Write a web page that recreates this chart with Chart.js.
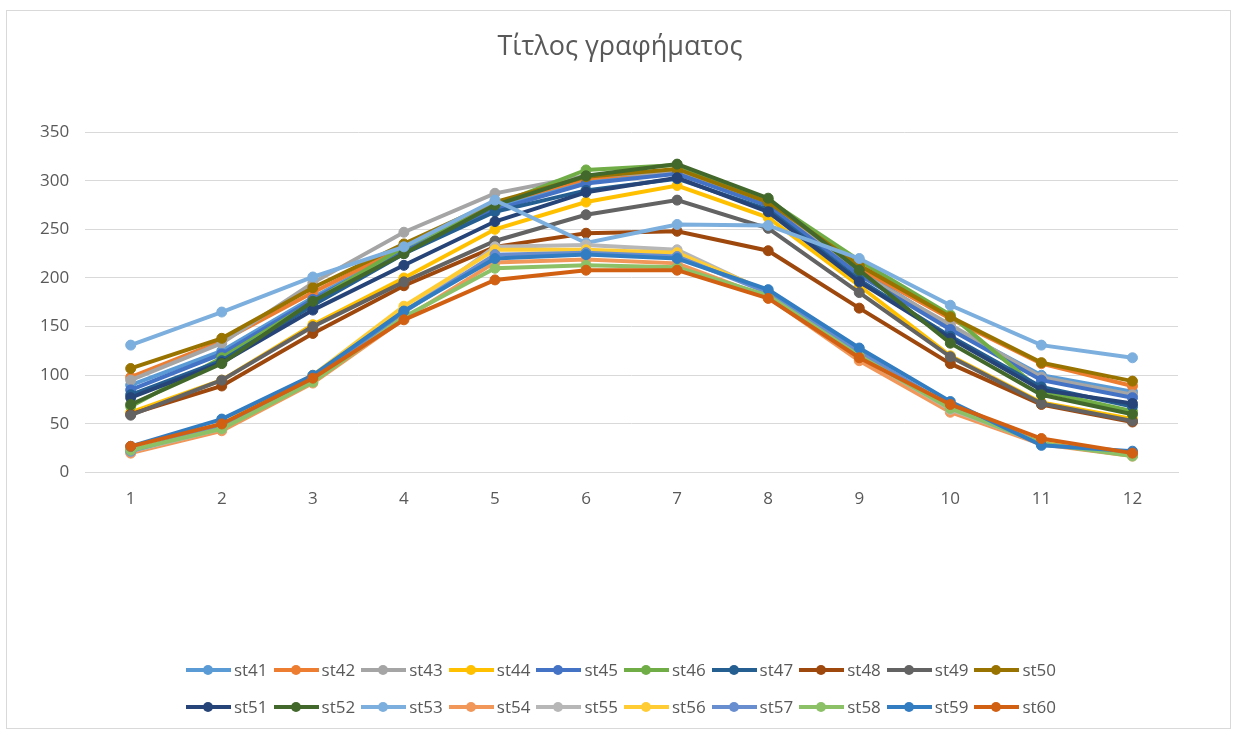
<!DOCTYPE html>
<html>
<head>
<meta charset="utf-8">
<script src="https://cdn.jsdelivr.net/npm/chart.js@4.4.1/dist/chart.umd.min.js"></script>
<style>
  html, body { margin: 0; padding: 0; background: #fff; }
  body { width: 1248px; height: 735px; position: relative; overflow: hidden; font-family: "Open Sans", sans-serif; }
  #frame { position: absolute; left: 6px; top: 10px; width: 1223px; height: 717px; border: 1px solid #d9d9d9; }
  #chart { position: absolute; left: 0; top: 0; }
  #title { position: absolute; left: 0; width: 1240px; top: 26px; text-align: center; font-size: 27px; line-height: 38px; color: #595959; }
  #legend { position: absolute; left: 0; width: 1248px; top: 651px; }
  .row { display: flex; justify-content: center; height: 37px; align-items: center; }
  .item { display: flex; align-items: center; margin-right: 6px; font-size: 17px; color: #595959; }
  .sw { position: relative; width: 45px; height: 4px; background: currentColor; margin-right: 3px; }
  .sw::after { content: ""; position: absolute; left: 17px; top: -3px; width: 10px; height: 10px; border-radius: 50%; background: currentColor; }
  .item span.t { color: #595959; }
</style>
</head>
<body>
<div id="frame"></div>
<canvas id="chart" width="1248" height="735"></canvas>
<div id="title">Τίτλος γραφήματος</div>
<div id="legend"></div>
<script>
const months = ["1", "2", "3", "4", "5", "6", "7", "8", "9", "10", "11", "12"];

const st41 = [90, 125, 180, 230, 272, 300, 310, 276, 208, 150, 100, 83];
const st42 = [98, 135, 185, 232, 276, 302, 311, 278, 210, 158, 112, 89];
const st43 = [95, 133, 195, 247, 287, 305, 309, 275, 205, 152, 98, 80];
const st44 = [62, 95, 152, 200, 250, 278, 295, 262, 192, 120, 72, 55];
const st45 = [85, 122, 178, 228, 270, 297, 307, 274, 203, 147, 95, 77];
const st46 = [68, 118, 175, 232, 275, 311, 316, 280, 218, 162, 84, 63];
const st47 = [80, 115, 172, 225, 268, 290, 302, 270, 198, 140, 88, 68];
const st48 = [60, 89, 143, 192, 232, 246, 248, 228, 169, 112, 70, 52];
const st49 = [59, 95, 150, 196, 238, 265, 280, 251, 185, 119, 71, 53];
const st50 = [107, 138, 190, 235, 278, 304, 312, 278, 213, 160, 113, 94];
const st51 = [77, 113, 167, 213, 258, 288, 303, 268, 196, 138, 85, 71];
const st52 = [70, 112, 176, 225, 275, 305, 317, 282, 208, 133, 80, 60];
const st53 = [131, 165, 201, 232, 280, 236, 255, 254, 220, 172, 131, 118];
const st54 = [20, 43, 92, 158, 216, 219, 215, 180, 115, 62, 29, 17];
const st55 = [22, 45, 95, 165, 232, 234, 229, 185, 120, 65, 30, 18];
const st56 = [24, 50, 100, 171, 229, 229, 226, 186, 122, 68, 32, 19];
const st57 = [22, 48, 97, 165, 224, 226, 222, 185, 124, 68, 30, 18];
const st58 = [23, 45, 93, 160, 210, 213, 211, 182, 120, 66, 30, 17];
const st59 = [27, 55, 100, 166, 220, 224, 220, 188, 128, 73, 28, 22];
const st60 = [27, 50, 97, 157, 198, 208, 208, 179, 118, 70, 35, 20];

const seriesNames = ["st41", "st42", "st43", "st44", "st45", "st46", "st47", "st48", "st49", "st50",
                     "st51", "st52", "st53", "st54", "st55", "st56", "st57", "st58", "st59", "st60"];
const seriesValues = [st41, st42, st43, st44, st45, st46, st47, st48, st49, st50,
                      st51, st52, st53, st54, st55, st56, st57, st58, st59, st60];
const seriesColors = ["#5B9BD5", "#ED7D31", "#A5A5A5", "#FFC000", "#4472C4", "#70AD47",
                      "#255E91", "#9E480E", "#636363", "#997300", "#264478", "#43682B",
                      "#7CAFDD", "#F1975A", "#B7B7B7", "#FFCD33", "#698ED0", "#8CC168",
                      "#327DC2", "#D26012"];

const yTicks = [0, 50, 100, 150, 200, 250, 300, 350];

const datasets = seriesNames.map((name, i) => ({
  label: name,
  data: seriesValues[i],
  borderColor: seriesColors[i],
  backgroundColor: seriesColors[i],
  borderWidth: 4,
  pointRadius: 5,
  pointBorderWidth: 1,
  pointBackgroundColor: seriesColors[i],
  pointBorderColor: seriesColors[i],
  tension: 0,
  // Excel draws later series on top
  order: seriesNames.length - i
}));

const textColor = "#595959";

new Chart(document.getElementById("chart"), {
  type: "line",
  data: { labels: months, datasets },
  options: {
    responsive: false,
    animation: false,
    // title is an html div above; top padding leaves its room
    layout: { padding: { left: 24, right: 70, top: 132, bottom: 210 } },
    plugins: {
      legend: { display: false },
      tooltip: { enabled: false },
      title: { display: false }
    },
    scales: {
      x: {
        offset: true,
        grid: { display: false, drawTicks: false },
        border: { display: true, color: "#d9d9d9", width: 1 },
        ticks: { color: textColor, font: { family: "Open Sans", size: 17 }, padding: 16 }
      },
      y: {
        min: 0,
        max: 350,
        afterBuildTicks: (axis) => { axis.ticks = yTicks.map((v) => ({ value: v })); },
        grid: { color: "#d9d9d9", drawTicks: false },
        border: { display: false },
        ticks: { color: textColor, font: { family: "Open Sans", size: 17 }, padding: 16 }
      }
    }
  }
});

// legend: two rows of ten, like the Excel one
const legend = document.getElementById("legend");
for (let r = 0; r < 2; r++) {
  const row = document.createElement("div");
  row.className = "row";
  for (let i = r * 10; i < r * 10 + 10; i++) {
    const item = document.createElement("div");
    item.className = "item";
    const sw = document.createElement("div");
    sw.className = "sw";
    sw.style.color = seriesColors[i];
    const t = document.createElement("span");
    t.className = "t";
    t.textContent = seriesNames[i];
    item.appendChild(sw);
    item.appendChild(t);
    row.appendChild(item);
  }
  legend.appendChild(row);
}
</script>
</body>
</html>
